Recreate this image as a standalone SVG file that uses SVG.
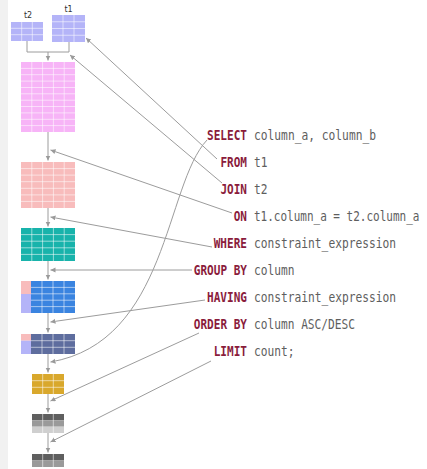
<svg xmlns="http://www.w3.org/2000/svg" width="427" height="469" viewBox="0 0 427 469">
<defs>
<marker id="ah" markerWidth="6" markerHeight="6" refX="5" refY="2.5" orient="auto" markerUnits="userSpaceOnUse"><path d="M0,0 L5,2.5 L0,5 z" fill="#9a9a9a"/></marker>
<style>
.grid{stroke:#ffffff;stroke-opacity:0.55;stroke-width:1;fill:none}
.conn{stroke:#9c9c9c;stroke-width:1;fill:none;marker-end:url(#ah)}
.kw{font-family:"DejaVu Sans Mono","Liberation Mono",monospace;font-size:13.5px;font-weight:bold;fill:#8a1c3c}
.val{font-family:"DejaVu Sans Mono","Liberation Mono",monospace;font-size:13.5px;fill:#5e5e5e}
.tl{font-family:"DejaVu Sans","Liberation Sans",sans-serif;font-size:8px;fill:#333;text-anchor:middle}
.lav{fill:#b4b4f8}
</style>
</defs>
<rect x="0" y="0" width="427" height="469" fill="#ffffff"/>
<rect x="0" y="0" width="8" height="469" fill="#f1f1f1"/>

<g id="t2">
<text class="tl" x="28" y="18">t2</text>
<rect class="lav" x="11" y="22" width="32" height="19"/>
<path class="grid" d="M21.7,22V41M32.3,22V41M11,28.3H43M11,34.7H43"/>
</g>
<g id="t1">
<text class="tl" x="68.5" y="12">t1</text>
<rect class="lav" x="52" y="15" width="33" height="27"/>
<path class="grid" d="M63,15V42M74,15V42M52,21.75H85M52,28.5H85M52,35.25H85"/>
</g>
<g id="joined">
<rect x="21" y="62" width="54" height="70" fill="#f7b4f7"/>
<path class="grid" d="M31.8,62V132M42.6,62V132M53.4,62V132M64.2,62V132M21,68.4H75M21,74.7H75M21,81.1H75M21,87.5H75M21,93.8H75M21,100.2H75M21,106.5H75M21,112.9H75M21,119.3H75M21,125.6H75"/>
</g>
<g id="on-result">
<rect x="21" y="162" width="54" height="46" fill="#f8bcbc"/>
<path class="grid" d="M31.8,162V208M42.6,162V208M53.4,162V208M64.2,162V208M21,168.6H75M21,175.1H75M21,181.7H75M21,188.3H75M21,194.9H75M21,201.4H75"/>
</g>
<g id="where-result">
<rect x="21" y="228" width="54" height="33" fill="#18b3ab"/>
<path class="grid" d="M31.8,228V261M42.6,228V261M53.4,228V261M64.2,228V261M21,234.6H75M21,241.2H75M21,247.8H75M21,254.4H75"/>
</g>
<g id="group-result">
<rect x="21" y="281" width="10" height="13" fill="#f8bcbc"/>
<rect class="lav" x="21" y="294" width="10" height="19"/>
<rect x="31" y="281" width="44" height="32" fill="#3a84e0"/>
<path class="grid" d="M42,281V313M53,281V313M64,281V313M31,287.4H75M31,293.8H75M31,300.2H75M31,306.6H75"/>
</g>
<g id="having-result">
<rect x="21" y="334" width="10" height="6.7" fill="#f8bcbc"/>
<rect class="lav" x="21" y="340.7" width="10" height="13.3"/>
<rect x="31" y="334" width="44" height="20" fill="#5e6d9e"/>
<path class="grid" d="M42,334V354M53,334V354M64,334V354M31,340.7H75M31,347.3H75"/>
</g>
<g id="select-result">
<rect x="32" y="374" width="32" height="20" fill="#d9a82c"/>
<path class="grid" d="M42.7,374V394M53.3,374V394M32,380.7H64M32,387.3H64"/>
</g>
<g id="order-result">
<rect x="32" y="414" width="32" height="6.3" fill="#5f5f5f"/>
<rect x="32" y="420.3" width="32" height="6.4" fill="#9a9a9a"/>
<rect x="32" y="426.7" width="32" height="6.3" fill="#cfcfcf"/>
<path class="grid" d="M42.7,414V433M53.3,414V433"/>
</g>
<g id="limit-result">
<rect x="32" y="454" width="32" height="6.5" fill="#5f5f5f"/>
<rect x="32" y="460.5" width="32" height="6.5" fill="#9a9a9a"/>
<path class="grid" d="M42.7,454V467M53.3,454V467"/>
</g>

<g id="sql">
<text class="kw" x="207" y="140" textLength="40" lengthAdjust="spacingAndGlyphs">SELECT</text>
<text class="val" x="254" y="140" textLength="122" lengthAdjust="spacingAndGlyphs">column_a, column_b</text>
<text class="kw" x="220.4" y="167" textLength="26.6" lengthAdjust="spacingAndGlyphs">FROM</text>
<text class="val" x="254" y="167" textLength="13.5" lengthAdjust="spacingAndGlyphs">t1</text>
<text class="kw" x="220.4" y="194" textLength="26.6" lengthAdjust="spacingAndGlyphs">JOIN</text>
<text class="val" x="254" y="194" textLength="13.5" lengthAdjust="spacingAndGlyphs">t2</text>
<text class="kw" x="233.7" y="221" textLength="13.3" lengthAdjust="spacingAndGlyphs">ON</text>
<text class="val" x="0" y="0" transform="translate(254,221) scale(0.815,1)">t1.column_a = t2.column_a</text>
<text class="kw" x="213.7" y="248" textLength="33.3" lengthAdjust="spacingAndGlyphs">WHERE</text>
<text class="val" x="254" y="248" textLength="142" lengthAdjust="spacingAndGlyphs">constraint_expression</text>
<text class="kw" x="193.8" y="275" textLength="53.2" lengthAdjust="spacingAndGlyphs">GROUP BY</text>
<text class="val" x="254" y="275" textLength="40.5" lengthAdjust="spacingAndGlyphs">column</text>
<text class="kw" x="207" y="302" textLength="40" lengthAdjust="spacingAndGlyphs">HAVING</text>
<text class="val" x="254" y="302" textLength="142" lengthAdjust="spacingAndGlyphs">constraint_expression</text>
<text class="kw" x="193.8" y="329" textLength="53.2" lengthAdjust="spacingAndGlyphs">ORDER BY</text>
<text class="val" x="254" y="329" textLength="101" lengthAdjust="spacingAndGlyphs">column ASC/DESC</text>
<text class="kw" x="213.7" y="356" textLength="33.3" lengthAdjust="spacingAndGlyphs">LIMIT</text>
<text class="val" x="254" y="356" textLength="40.5" lengthAdjust="spacingAndGlyphs">count;</text>
</g>

<g id="connectors">
<path d="M27,41V52H69V42" stroke="#9c9c9c" stroke-width="1" fill="none"/>
<path class="conn" d="M48,52V60.5"/>
<path class="conn" d="M48,132V160.5"/>
<path class="conn" d="M48,208V226.5"/>
<path class="conn" d="M48,261V279.5"/>
<path class="conn" d="M48,313V332.5"/>
<path class="conn" d="M48,354V372.5"/>
<path class="conn" d="M48,394V412.5"/>
<path class="conn" d="M48,433V452.5"/>
<path class="conn" d="M207,140 C165,185 168,342 50.5,362"/>
<path class="conn" d="M217,159 L86,38"/>
<path class="conn" d="M222,183 L70,55"/>
<path class="conn" d="M232,213 L50.5,150"/>
<path class="conn" d="M212,247 L50.5,217"/>
<path class="conn" d="M192,270 L50.5,270"/>
<path class="conn" d="M205,300 L50.5,322"/>
<path class="conn" d="M199,333 L50.5,401"/>
<path class="conn" d="M211,361 L50.5,442"/>
</g>
</svg>
